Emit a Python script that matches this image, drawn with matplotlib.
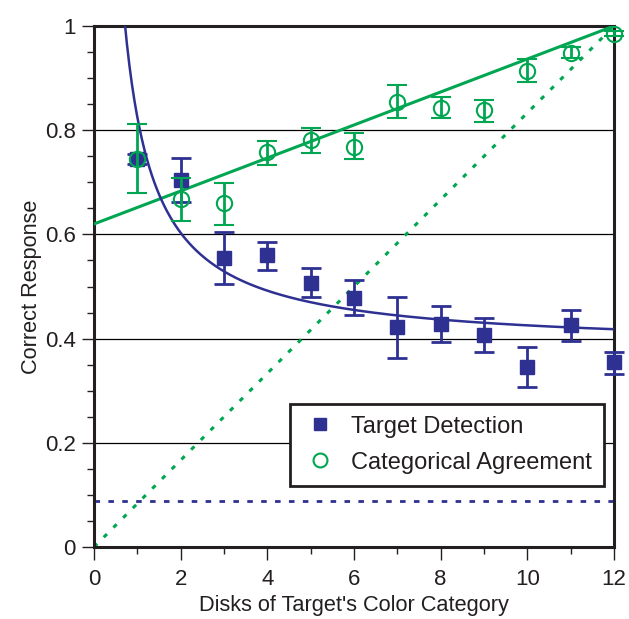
import numpy as np
import matplotlib
matplotlib.use("Agg")
import matplotlib.pyplot as plt
from matplotlib.ticker import MultipleLocator
from matplotlib.lines import Line2D

plt.rcParams['font.family'] = ['Liberation Sans', 'DejaVu Sans']

# Data
disks = [1, 2, 3, 4, 5, 6, 7, 8, 9, 10, 11, 12]
det_mean = [0.745, 0.705, 0.554, 0.560, 0.507, 0.477, 0.422, 0.428, 0.407, 0.345, 0.426, 0.355]
det_lo   = [0.735, 0.663, 0.505, 0.531, 0.480, 0.445, 0.362, 0.394, 0.375, 0.307, 0.396, 0.333]
det_hi   = [0.755, 0.747, 0.604, 0.586, 0.536, 0.512, 0.480, 0.463, 0.439, 0.384, 0.455, 0.375]

cat_mean = [0.745, 0.667, 0.660, 0.758, 0.781, 0.768, 0.855, 0.843, 0.839, 0.914, 0.949, 0.985]
cat_lo   = [0.680, 0.625, 0.619, 0.733, 0.756, 0.744, 0.823, 0.823, 0.816, 0.892, 0.938, 0.980]
cat_hi   = [0.811, 0.708, 0.698, 0.780, 0.804, 0.794, 0.887, 0.863, 0.858, 0.937, 0.960, 0.990]

# fit lines
cat_fit_x = [0, 12]
cat_fit_y = [0.62, 1.0]
chance_cat_x = [0, 12]
chance_cat_y = [0.0, 1.0]
chance_det_x = [0, 12]
chance_det_y = [0.088, 0.088]
det_fit_a = 0.381   # y = a + b / x
det_fit_b = 0.444

x_ticks = [0, 2, 4, 6, 8, 10, 12]
x_ticklabels = ['0', '2', '4', '6', '8', '10', '12']
y_ticks = [0, 0.2, 0.4, 0.6, 0.8, 1.0]
y_ticklabels = ['0', '0.2', '0.4', '0.6', '0.8', '1']

BLUE = '#2e3192'
GREEN = '#00a651'
INK = '#231f20'

fig = plt.figure(figsize=(6.29, 6.19), dpi=100)
ax = fig.add_axes([94/629, 72/619, 520/629, 521/619])

ax.set_xlim(0, 12)
ax.set_ylim(0, 1)

for yv in [0.2, 0.4, 0.6, 0.8]:
    ax.axhline(yv, color='black', lw=0.9, zorder=1)

# chance lines
ax.plot(chance_det_x, chance_det_y, color=BLUE, lw=2, ls=(0, (2, 3)), zorder=2)
ax.plot(chance_cat_x, chance_cat_y, color=GREEN, lw=2.2, ls=(0, (1.5, 3)), zorder=2)

# fits
ax.plot(cat_fit_x, cat_fit_y, color=GREEN, lw=2.2, zorder=3)
xf = np.linspace(0.5, 12, 400)
ax.plot(xf, det_fit_a + det_fit_b / xf, color=BLUE, lw=1.8, zorder=3)

d = np.array(det_mean)
c = np.array(cat_mean)
ax.errorbar(disks, d, yerr=[d - np.array(det_lo), np.array(det_hi) - d],
            fmt='s', color=BLUE, ms=10, elinewidth=2, capsize=7, capthick=2,
            zorder=4, clip_on=False)
ax.errorbar(disks, c, yerr=[c - np.array(cat_lo), np.array(cat_hi) - c],
            fmt='o', color=GREEN, mfc='none', mec=GREEN, mew=1.5, ms=11,
            elinewidth=2, capsize=7, capthick=2, zorder=5, clip_on=False)

for s in ax.spines.values():
    s.set_linewidth(2.2)
    s.set_color(INK)

ax.xaxis.set_minor_locator(MultipleLocator(1))
ax.yaxis.set_minor_locator(MultipleLocator(0.05))
ax.tick_params(which='major', direction='out', length=9, width=1, labelsize=16,
               pad=4, labelcolor=INK, color=INK)
ax.tick_params(axis='x', which='major', pad=7)
ax.tick_params(which='minor', direction='out', length=5, width=1, color=INK)
ax.set_xticks(x_ticks)
ax.set_xticklabels(x_ticklabels)
ax.set_yticks(y_ticks)
ax.set_yticklabels(y_ticklabels)

ax.set_xlabel("Disks of Target's Color Category", fontsize=15.7, labelpad=3.5, color=INK)
ax.set_ylabel("Correct Response", fontsize=15.7, labelpad=2, color=INK)

handles = [Line2D([], [], marker='s', ls='none', color=BLUE, ms=9),
           Line2D([], [], marker='o', ls='none', mfc='none', mec=GREEN, mew=1.5, ms=10)]
leg = ax.legend(handles, ['Target Detection', 'Categorical Agreement'],
                loc='lower right', bbox_to_anchor=(0.98, 0.118), fontsize=17,
                frameon=True, fancybox=False, edgecolor=INK,
                borderpad=0.5, handletextpad=0.5, labelspacing=0.6,
                handlelength=1.6, borderaxespad=0)
leg.get_frame().set_linewidth(2)
leg.get_frame().set_alpha(1)
leg.set_zorder(10)
for t in leg.get_texts():
    t.set_color(INK)

fig.savefig('out.png', dpi=100)
